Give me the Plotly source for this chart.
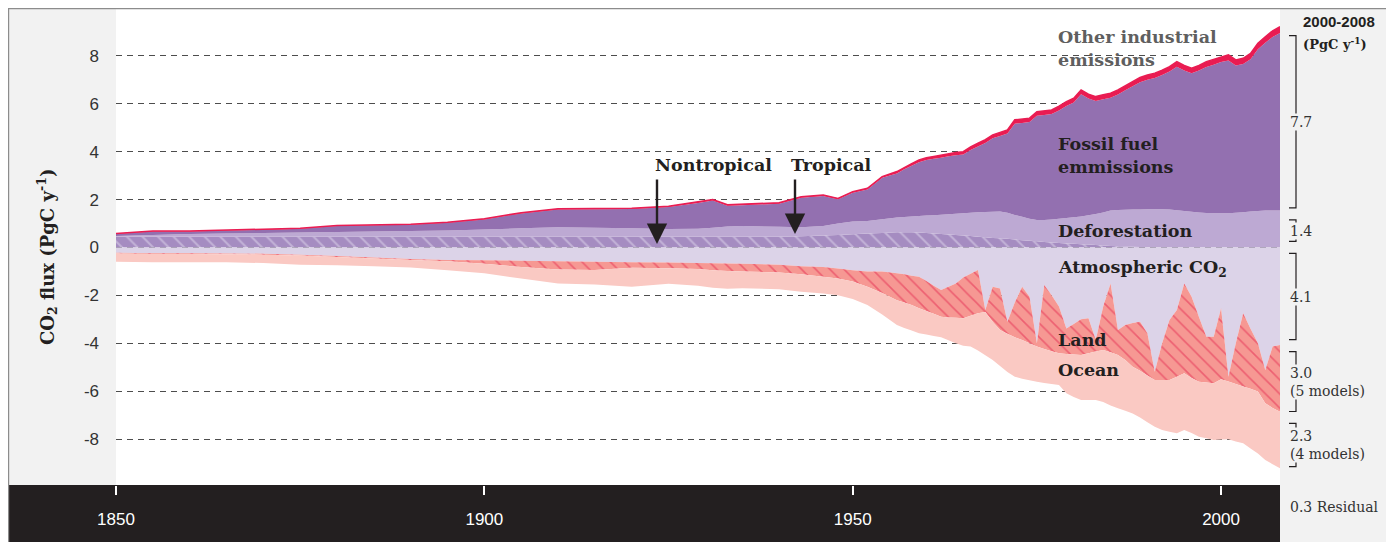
import plotly.graph_objects as go

# years: 5-yearly / irregular before 1956, annual afterwards
years = [1850, 1855, 1860, 1865, 1870, 1875, 1880, 1885, 1890, 1895, 1900, 1905, 1910,
         1915, 1920, 1925, 1929, 1931, 1933, 1935, 1940, 1943, 1946, 1948, 1950, 1952,
         1954] + list(range(1956, 2009))

# sources (PgC/yr)
nontropical = [0.45] * 21 + [0.47, 0.50, 0.52, 0.55, 0.58, 0.60] + [
    0.63, 0.63, 0.63, 0.62, 0.60, 0.58, 0.56, 0.54, 0.52, 0.50,
    0.48, 0.45, 0.43, 0.40, 0.38, 0.36, 0.33, 0.30, 0.28, 0.26,
    0.23, 0.21, 0.19, 0.17, 0.15, 0.13, 0.12, 0.10, 0.08, 0.06,
    0.05, 0.04, 0.03, 0.02, 0.01] + [0.0] * 18
tropical = [0.03, 0.07, 0.11, 0.13, 0.15, 0.17, 0.20, 0.22, 0.24, 0.26, 0.30, 0.35, 0.39,
            0.37, 0.35, 0.32, 0.33, 0.37, 0.43, 0.45, 0.41, 0.37, 0.40, 0.48, 0.53, 0.52,
            0.58,
            0.62, 0.64, 0.66, 0.69, 0.73, 0.77, 0.81, 0.85, 0.89, 0.93,
            0.97, 1.02, 1.05, 1.09, 1.12, 1.09, 1.03, 0.98, 0.92, 0.89,
            0.92, 0.96, 1.01, 1.06, 1.11, 1.16, 1.22, 1.30, 1.38, 1.48,
            1.51, 1.53, 1.55, 1.57, 1.59, 1.60, 1.60, 1.58, 1.55, 1.52,
            1.49, 1.46, 1.44, 1.43, 1.43, 1.43, 1.45, 1.47, 1.50, 1.52,
            1.54, 1.54, 1.54]
fossil = [0.08, 0.15, 0.11, 0.13, 0.13, 0.16, 0.25, 0.26, 0.26, 0.32, 0.42, 0.62, 0.75,
          0.78, 0.81, 0.92, 1.08, 1.14, 0.86, 0.86, 0.97, 1.24, 1.25, 1.01, 1.20, 1.32,
          1.73,
          1.84, 2.00, 2.12, 2.25, 2.32, 2.35, 2.38, 2.42, 2.44, 2.45,
          2.62, 2.75, 2.88, 3.07, 3.15, 3.31, 3.81, 3.92, 4.04, 4.35,
          4.38, 4.40, 4.52, 4.68, 4.79, 5.11, 4.88, 4.72, 4.73, 4.71,
          4.83, 4.99, 5.15, 5.31, 5.40, 5.48, 5.60, 5.77, 6.00, 5.87,
          5.79, 5.93, 6.10, 6.20, 6.32, 6.38, 6.15, 6.19, 6.36, 6.76,
          7.01, 7.25, 7.42]
other_industrial = [0.02] * 10 + [0.03] * 6 + [0.04] * 8 + [0.05] * 3 + [
    0.08, 0.08, 0.09, 0.09, 0.10, 0.10, 0.11, 0.11, 0.12, 0.12,
    0.13, 0.13, 0.14, 0.14, 0.15, 0.15, 0.16, 0.16, 0.16, 0.17,
    0.17, 0.17, 0.18, 0.18, 0.18, 0.18, 0.18, 0.18, 0.19, 0.19,
    0.19, 0.19, 0.20, 0.20, 0.20, 0.20, 0.20, 0.20, 0.21, 0.21,
    0.21, 0.21, 0.22, 0.22, 0.22, 0.23, 0.23, 0.24, 0.24, 0.25,
    0.25, 0.26, 0.26]

# sinks (PgC/yr, drawn downwards)
atmospheric = [0.22, 0.24, 0.24, 0.25, 0.26, 0.30, 0.36, 0.42, 0.48, 0.52, 0.53, 0.55, 0.58,
               0.60, 0.62, 0.63, 0.65, 0.66, 0.67, 0.68, 0.72, 0.78, 0.82, 0.88, 0.95, 1.00,
               1.00,
               1.08, 1.12, 1.18, 1.22, 1.40, 1.60, 1.78, 1.64, 1.50, 1.25,
               1.10, 0.94, 2.61, 1.64, 1.71, 3.10, 2.30, 1.64, 2.06, 4.00,
               1.57, 2.00, 2.47, 3.38, 3.20, 3.00, 2.96, 3.86, 2.47, 1.50,
               3.45, 3.24, 3.15, 3.10, 3.58, 5.19, 4.00, 3.03, 2.61, 1.50,
               2.06, 2.90, 3.73, 3.73, 2.54, 5.40, 4.00, 2.75, 3.40, 4.00,
               5.12, 4.14, 4.07]
land = [0.03, 0.03, 0.03, 0.03, 0.04, 0.04, 0.04, 0.04, 0.04, 0.06, 0.15, 0.27, 0.34,
        0.34, 0.23, 0.24, 0.25, 0.29, 0.31, 0.32, 0.33, 0.34, 0.40, 0.42, 0.47, 0.64,
        0.90,
        1.12, 1.18, 1.22, 1.32, 1.25, 1.17, 1.11, 1.28, 1.44, 1.71,
        1.75, 1.81, 0.09, 1.46, 1.74, 0.50, 1.45, 2.22, 1.94, 0.14,
        2.67, 2.33, 1.95, 1.07, 1.27, 1.49, 1.46, 0.49, 1.81, 2.88,
        1.04, 1.46, 1.83, 2.05, 1.77, 0.34, 1.53, 2.50, 2.79, 3.75,
        3.39, 2.71, 1.91, 1.94, 2.96, 0.20, 1.70, 3.06, 2.50, 2.02,
        1.39, 2.56, 2.79]
ocean = [0.35, 0.35, 0.35, 0.34, 0.35, 0.38, 0.34, 0.32, 0.32, 0.37, 0.40, 0.48, 0.58,
         0.61, 0.79, 0.65, 0.70, 0.73, 0.74, 0.70, 0.70, 0.73, 0.70, 0.70, 0.73, 0.76,
         0.90,
         1.04, 1.06, 1.07, 1.04, 0.99, 0.93, 0.86, 0.96, 1.06, 1.14,
         1.29, 1.55, 1.80, 1.60, 1.50, 1.60, 1.65, 1.62, 1.55, 1.47,
         1.42, 1.37, 1.32, 1.64, 1.78, 1.88, 1.95, 2.02, 2.17, 2.22,
         2.23, 2.12, 1.95, 1.95, 1.95, 1.96, 2.09, 2.17, 2.36, 2.37,
         2.30, 2.29, 2.33, 2.37, 2.52, 2.41, 2.40, 2.37, 2.50, 2.58,
         2.37, 2.35, 2.36]

# 2000-2008 budget shown in the right column
budget_sources = [("7.7", 7.7), ("1.4", 1.4)]          # fossil, deforestation
budget_sinks = [("4.1", 4.1), ("3.0<br>(5 models)", 3.0), ("2.3<br>(4 models)", 2.3)]
residual_text = "0.3 Residual"

x_ticks = [1850, 1900, 1950, 2000]
y_ticks = [-8, -6, -4, -2, 0, 2, 4, 6, 8]

PURPLE = "#9370b0"
LIGHT_PURPLE = "#bda9d3"
HATCH_PURPLE = "#a58cc1"
LAVENDER = "#dcd3e8"
SALMON = "#f69893"
PINK = "#fac9c3"
RED = "#e91c52"
DARK = "#231f20"
PANEL = "#f2f2f2"
SERIF = "DejaVu Serif"
SANS = "Liberation Sans"

# page is offset by the 8px body margin; positions below are page pixels
OFF = 8
W, H = 1380, 560
L, R, T, B = 116, 1280, 8, 485


def px(x):
    return (x - L) / (R - L)


def py(y):
    return (B - y) / (B - T)


fig = go.Figure()

fig.add_trace(go.Scatter(
    x=years, y=nontropical, stackgroup="src", mode="none",
    fillcolor=HATCH_PURPLE,
    fillpattern=dict(shape="\\", bgcolor=HATCH_PURPLE, fgcolor="#e2daee",
                     size=11, solidity=0.18)
))
fig.add_trace(go.Scatter(x=years, y=tropical, stackgroup="src", mode="none",
                         fillcolor=LIGHT_PURPLE))
fig.add_trace(go.Scatter(x=years, y=fossil, stackgroup="src", mode="none",
                         fillcolor=PURPLE))
fig.add_trace(go.Scatter(x=years, y=other_industrial, stackgroup="src", mode="lines",
                         line=dict(color=RED, width=1.5), fillcolor=RED))

fig.add_trace(go.Scatter(x=years, y=[-v for v in atmospheric], stackgroup="sink",
                         mode="none", fillcolor=LAVENDER))
fig.add_trace(go.Scatter(
    x=years, y=[-v for v in land], stackgroup="sink", mode="none",
    fillcolor=SALMON,
    fillpattern=dict(shape="\\", bgcolor=SALMON, fgcolor="#e3264f",
                     size=10, solidity=0.16)
))
fig.add_trace(go.Scatter(x=years, y=[-v for v in ocean], stackgroup="sink",
                         mode="none", fillcolor=PINK))

shapes = [
    # left grey panel, black time band, right grey panel
    dict(type="rect", xref="paper", yref="paper", x0=px(OFF), x1=0, y0=0, y1=1,
         fillcolor=PANEL, line_width=0, layer="below"),
    dict(type="rect", xref="paper", yref="paper", x0=px(OFF), x1=1, y0=py(OFF + H), y1=0,
         fillcolor=DARK, line_width=0, layer="below"),
    dict(type="rect", xref="paper", yref="paper", x0=1, x1=px(OFF + W), y0=py(OFF + H), y1=1,
         fillcolor=PANEL, line_width=0, layer="below"),
    dict(type="rect", xref="paper", yref="paper", x0=px(OFF + 0.6), x1=px(OFF + W - 0.6),
         y0=py(OFF + H + 5), y1=py(OFF + 0.6),
         line=dict(color="#8c8c8c", width=1.2)),
]

annotations = []


def bracket(lo, hi, label):
    xv, xt = px(1296), px(1289)
    shapes.append(dict(type="path", xref="paper", yref="y",
                       path=f"M {xt},{hi} L {xv},{hi} L {xv},{lo} L {xt},{lo}",
                       line=dict(color=DARK, width=1.2)))
    annotations.append(dict(xref="paper", yref="y", x=px(1289), y=(lo + hi) / 2,
                            text=label, showarrow=False, xanchor="left", yanchor="middle",
                            align="left", bgcolor=PANEL, borderpad=0,
                            font=dict(family=SERIF, size=14, color="#333333")))


inset = 0.25
base = 0
for label, value in reversed(budget_sources):
    bracket(base + inset, base + value - inset, label)
    base += value
base = 0
for label, value in budget_sinks:
    bracket(base - value + inset, base - inset, label)
    base -= value


def note(x, y, text, family, size, color, **kw):
    annotations.append(dict(xref="paper", yref="paper", x=px(x), y=py(y), text=text,
                            showarrow=False, xanchor="left", yanchor="middle", align="left",
                            font=dict(family=family, size=size, color=color), **kw))


note(1288, 507, residual_text, SERIF, 14, "#333333")
note(1301, 22, "<b>2000-2008</b>", SANS, 15, DARK)
note(1301, 44, "<b>(PgC y<sup>-1</sup>)</b>", SERIF, 13, DARK)

# area labels
labels = [
    ("Other industrial<br>emissions", 1056, 48, "#5f5f5f"),
    ("Fossil fuel<br>emmissions", 1056, 156, DARK),
    ("Deforestation", 1056, 231, DARK),
    ("Atmospheric CO<sub>2</sub>", 1056, 268, DARK),
    ("Land", 1056, 340, DARK),
    ("Ocean", 1056, 370, DARK),
    ("Nontropical", 653, 165, DARK),
    ("Tropical", 789, 165, DARK),
]
for text, x, y, color in labels:
    note(x, y, f"<b>{text}</b>", SERIF, 17.5, color)

for x, y_head in [(657, 244), (795, 234)]:
    annotations.append(dict(xref="paper", yref="paper", x=px(x), y=py(y_head), text="",
                            showarrow=True, ax=0, ay=-(y_head - 178), arrowhead=2,
                            arrowsize=1.7, arrowwidth=2.4, arrowcolor=DARK))

annotations.append(dict(xref="paper", yref="paper", x=px(47), y=py(257),
                        xanchor="center", yanchor="middle",
                        text="<b>CO<sub>2</sub> flux (PgC y<sup>-1</sup>)</b>",
                        showarrow=False, textangle=-90,
                        font=dict(family=SERIF, size=18, color=DARK)))

fig.update_layout(
    width=W, height=H, autosize=False,
    margin=dict(l=L - OFF, r=OFF + W - R, t=T - OFF, b=OFF + H - B, pad=0),
    paper_bgcolor="white", plot_bgcolor="white",
    showlegend=False,
    shapes=shapes,
    annotations=annotations,
)

fig.update_xaxes(
    range=[1850, 2008], tickvals=x_ticks, showgrid=False, zeroline=False,
    ticks="outside", ticklen=9, tickwidth=2, tickcolor="white",
    tickfont=dict(family=SANS, size=17, color="white"), ticklabelstandoff=10,
)
fig.update_yaxes(
    range=[-9.92, 10.0], tickvals=y_ticks, ticktext=[str(v) for v in y_ticks],
    zeroline=False, showgrid=True, gridcolor="#4d4d4d", gridwidth=1, griddash="6px,5px",
    tickfont=dict(family=SANS, size=17, color="#333333"), ticklabelstandoff=16,
)

fig.write_html("out.html")
